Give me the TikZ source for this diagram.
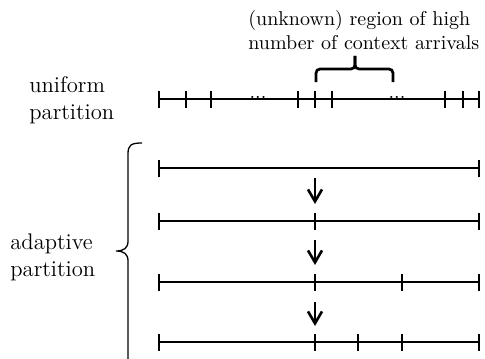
\documentclass[tikz,border=0pt]{standalone}
\usetikzlibrary{arrows.meta}
\begin{document}
\begin{tikzpicture}[x=0.5pt,y=-0.5pt,
  axisline/.style={line width=1.45pt},
  tickmark/.style={line width=1.45pt},
  steparrow/.style={line width=1.3pt,-{Straight Barb[length=6pt,width=7pt,line width=1.3pt]}},
  sidelabel/.style={align=left,font=\fontsize{11.3}{13.6}\selectfont,inner sep=0pt},
  toplabel/.style={align=left,font=\fontsize{10}{12}\selectfont,inner sep=0pt},
  dotslabel/.style={inner sep=0pt,anchor=base,font=\fontsize{10}{12}\selectfont},
  topbrace/.style={line width=1.35pt,rounded corners=2pt},
  sidebrace/.style={line width=0.65pt}
]
\useasboundingbox (0,0) rectangle (485,358);
\clip (0,0) rectangle (485,358);
% labels
\node[sidelabel,anchor=west] (uni) at (29,100) {uniform\\partition};
\node[sidelabel,anchor=west] (ada) at (10,257) {adaptive\\partition};
\node[toplabel,anchor=west] (top) at (248,30) {(unknown) region of high\\number of context arrivals};
% uniform partition line
\coordinate (u0) at (159,99);
\coordinate (u1) at (479,99);
\draw[axisline] (u0) -- (u1);
\foreach \x in {159,186,211,298,315,332,445,463,479}
  \draw[tickmark] (\x,90.5) -- (\x,107.5);
\node[dotslabel] (d1) at (258,98) {...};
\node[dotslabel] (d2) at (397,98) {...};
% top brace
\coordinate (bl) at (316,82);
\coordinate (br) at (393,82);
\coordinate (bt) at (355,56);
\draw[topbrace] (bl) -- (316,69) -- (355,69) -- (bt);
\draw[topbrace] (br) -- (393,69) -- (355,69) -- (bt);
% left brace
\coordinate (lbt) at (142,143);
\coordinate (lbm) at (116,251);
\coordinate (lbb) at (128,362);
\draw[sidebrace] (lbt) .. controls (131,143) and (128,145) .. (128,154)
  -- (128,241) .. controls (128,248) and (124,251) .. (lbm)
  .. controls (124,251) and (128,254) .. (128,261) -- (lbb);
% adaptive lines
\foreach \y/\ticks in {168/{159,479},221/{159,315,479},282/{159,315,402,479},342/{159,315,358,402,479}}{
  \draw[axisline] (159,\y) -- (479,\y);
  \foreach \x in \ticks
    \draw[tickmark] (\x,\y-8.5) -- (\x,\y+8.5);
}
% arrows
\coordinate (a1s) at (315,178); \coordinate (a1e) at (315,204);
\coordinate (a2s) at (315,240); \coordinate (a2e) at (315,265);
\coordinate (a3s) at (315,302); \coordinate (a3e) at (315,326);
\draw[steparrow] (a1s) -- (a1e);
\draw[steparrow] (a2s) -- (a2e);
\draw[steparrow] (a3s) -- (a3e);
\end{tikzpicture}
\end{document}
